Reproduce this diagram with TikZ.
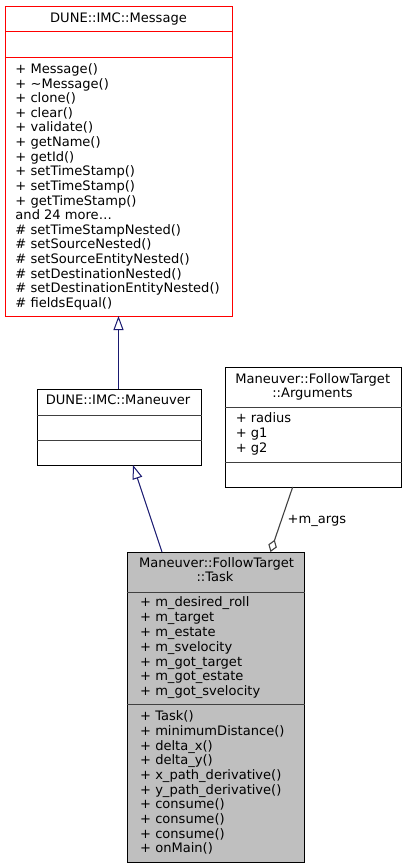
\documentclass[tikz,border=0pt]{standalone}
\usepackage{fontspec}
\setmainfont{DejaVu Sans}
\usetikzlibrary{arrows.meta}
\definecolor{edgeblue}{HTML}{191970}
\definecolor{divgray}{HTML}{404040}
\definecolor{taskfill}{HTML}{BFBFBF}
\definecolor{msgred}{HTML}{FF0000}
\begin{document}
\begin{tikzpicture}[x=1pt,y=-1pt,
  font=\fontsize{13.05}{14.65}\selectfont,
  box/.style={draw=black, line width=1pt, inner sep=0pt, fill=white},
  txt/.style={inner sep=0pt, anchor=base},
  mem/.style={inner sep=0pt, anchor=base west},
  div/.style={draw=divgray, line width=1pt},
  inh/.style={draw=edgeblue, line width=1pt, -{Triangle[open, length=14pt, width=10pt]}},
  agg/.style={draw=divgray, line width=1.1pt, -{Diamond[open, length=13pt, width=9pt]}}]
\useasboundingbox (0,0) rectangle (407,868);
% Message
\node[box, draw=msgred, minimum width=226.5pt, minimum height=310pt] (msg) at (118.75,161) {};
\draw[draw=msgred, line width=1pt] (msg.west |- 0,31) -- (msg.east |- 0,31);
\draw[draw=msgred, line width=1pt] (msg.west |- 0,57) -- (msg.east |- 0,57);
\node[txt] (msgt) at (118.5,22) {DUNE::IMC::Message};
\foreach \t [count=\i] in {{+ Message()}, {+ \textasciitilde Message()}, {+ clone()}, {+ clear()}, {+ validate()}, {+ getName()}, {+ getId()}, {+ setTimeStamp()}, {+ setTimeStamp()}, {+ getTimeStamp()}, {and 24 more\ldots}, {\# setTimeStampNested()}, {\# setSourceNested()}, {\# setSourceEntityNested()}, {\# setDestinationNested()}, {\# setDestinationEntityNested()}, {\# fieldsEqual()}}
  \node[mem] (msgm\i) at (15.3, {73.5+14.62*(\i-1)}) {\t};
% Maneuver
\node[box, minimum width=164pt, minimum height=76pt] (man) at (119,427) {};
\draw[div] (man.west |- 0,415) -- (man.east |- 0,415);
\draw[div] (man.west |- 0,440) -- (man.east |- 0,440);
\node[txt] (mant) at (118,404.8) {DUNE::IMC::Maneuver};
% Arguments
\node[box, minimum width=176pt, minimum height=120pt] (arg) at (313,427) {};
\draw[div] (arg.west |- 0,407) -- (arg.east |- 0,407);
\draw[div] (arg.west |- 0,462) -- (arg.east |- 0,462);
\node[txt] (argt1) at (312.7,383.8) {Maneuver::FollowTarget};
\node[txt] (argt2) at (312.5,397.8) {::Arguments};
\foreach \t [count=\i] in {{+ radius}, {+ g1}, {+ g2}}
  \node[mem] (argm\i) at (235.6, {422.8+14.9*(\i-1)}) {\t};
% Task
\node[box, fill=taskfill, minimum width=177pt, minimum height=310pt] (task) at (215.5,707) {};
\draw[div] (task.west |- 0,592) -- (task.east |- 0,592);
\draw[div] (task.west |- 0,704) -- (task.east |- 0,704);
\node[txt] (taskt1) at (216.5,567.8) {Maneuver::FollowTarget};
\node[txt] (taskt2) at (215,581.8) {::Task};
\foreach \t [count=\i] in {{+ m\_desired\_roll}, {+ m\_target}, {+ m\_estate}, {+ m\_svelocity}, {+ m\_got\_target}, {+ m\_got\_estate}, {+ m\_got\_svelocity}}
  \node[mem] (taskf\i) at (140, {606.8+14.83*(\i-1)}) {\t};
\foreach \t [count=\i] in {{+ Task()}, {+ minimumDistance()}, {+ delta\_x()}, {+ delta\_y()}, {+ x\_path\_derivative()}, {+ y\_path\_derivative()}, {+ consume()}, {+ consume()}, {+ consume()}, {+ onMain()}}
  \node[mem] (taskm\i) at (140, {720.8+14.67*(\i-1)}) {\t};
% connectors
\coordinate (manTop) at (118.5,389);
\coordinate (msgBot) at (118.5,316);
\draw[inh] (manTop) -- (msgBot);
\coordinate (taskIn) at (162,552);
\coordinate (manBot) at (133,465);
\draw[inh] (taskIn) -- (manBot);
\coordinate (argBot) at (292.7,487);
\coordinate (taskAgg) at (270.5,552);
\draw[agg] (argBot) -- (taskAgg);
\node[mem] (aggl) at (287.5,523.5) {+m\_args};
\end{tikzpicture}
\end{document}
